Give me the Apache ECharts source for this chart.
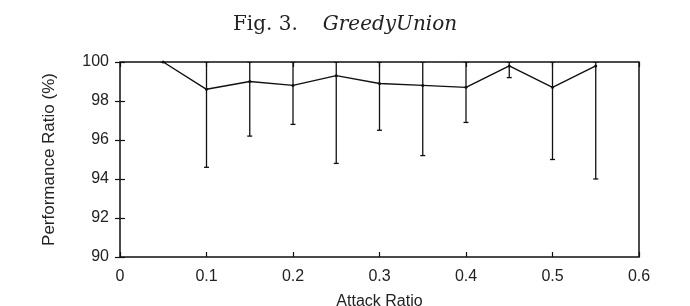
<!DOCTYPE html>
<html>
<head>
<meta charset="utf-8">
<script src="https://cdn.jsdelivr.net/npm/echarts@6/dist/echarts.min.js"></script>
<style>
  html, body { margin: 0; padding: 0; background: #fff; }
  #chart { width: 690px; height: 306px; }
</style>
</head>
<body>
<div id="chart"></div>
<script>
// attack ratio on x, performance ratio (%) on y
var attackRatio = [0.05, 0.1, 0.15, 0.2, 0.25, 0.3, 0.35, 0.4, 0.45, 0.5, 0.55];
var meanRatio   = [100, 98.6, 99.0, 98.8, 99.3, 98.9, 98.8, 98.7, 99.8, 98.7, 99.8];
var lowRatio    = [100, 94.6, 96.2, 96.8, 94.8, 96.5, 95.2, 96.9, 99.2, 95.0, 94.0];
var highRatio   = [100, 100, 100, 100, 100, 100, 100, 100, 100, 100, 100];
var yTicks = [90, 92, 94, 96, 98, 100];
var xTicks = [0, 0.1, 0.2, 0.3, 0.4, 0.5, 0.6];

var lineData = attackRatio.map(function (x, i) { return [x, meanRatio[i]]; });
var errData = attackRatio.map(function (x, i) { return [x, lowRatio[i], highRatio[i]]; });

var myChart = echarts.init(document.getElementById('chart'));

var axisFont = { fontFamily: 'Liberation Sans', fontSize: 16, color: '#222' };

var option = {
    animation: false,
    title: {
        text: '{a|Fig. 3.}     {b|GreedyUnion}',
        left: 'center',
        top: 10,
        textStyle: {
            fontWeight: 'normal',
            rich: {
                a: { fontFamily: 'DejaVu Serif', fontSize: 20, fontWeight: 'normal', color: '#222' },
                b: { fontFamily: 'DejaVu Serif', fontSize: 20, fontStyle: 'italic', fontWeight: 'normal', color: '#222' }
            }
        }
    },
    grid: {
        left: 120,
        right: 51,
        top: 62,
        bottom: 49,
        outerBoundsMode: 'none',
        show: true,
        borderColor: '#111',
        borderWidth: 1.5
    },
    xAxis: [{
        type: 'value',
        min: 0,
        max: 0.6,
        interval: 0.1,
        name: 'Attack Ratio',
        nameLocation: 'middle',
        nameGap: 37,
        nameTextStyle: axisFont,
        axisLine: { show: false },
        axisTick: { inside: true, length: 5, lineStyle: { color: '#111', width: 1.2 } },
        splitLine: { show: false },
        axisLabel: Object.assign({ margin: 12, formatter: function (v) {
            return xTicks.indexOf(+v.toFixed(1)) >= 0 ? String(+v.toFixed(1)) : '';
        } }, axisFont)
    }, {
        type: 'value',
        position: 'top',
        min: 0,
        max: 0.6,
        interval: 0.1,
        axisLine: { show: false },
        axisTick: { inside: true, length: 5, lineStyle: { color: '#111', width: 1.2 } },
        axisLabel: { show: false },
        splitLine: { show: false }
    }],
    yAxis: [{
        type: 'value',
        min: 90,
        max: 100,
        interval: 2,
        name: 'Performance Ratio (%)',
        nameLocation: 'middle',
        nameGap: 62,
        nameTextStyle: { fontFamily: 'Liberation Sans', fontSize: 17, color: '#222' },
        axisLine: { show: false },
        axisTick: { inside: true, length: 5, lineStyle: { color: '#111', width: 1.2 } },
        splitLine: { show: false },
        axisLabel: Object.assign({ margin: 11, formatter: function (v) {
            return yTicks.indexOf(v) >= 0 ? String(v) : '';
        } }, axisFont)
    }, {
        type: 'value',
        position: 'right',
        min: 90,
        max: 100,
        interval: 2,
        axisLine: { show: false },
        axisTick: { inside: true, length: 5, lineStyle: { color: '#111', width: 1.2 } },
        axisLabel: { show: false },
        splitLine: { show: false }
    }],
    series: [{
        type: 'custom',
        name: 'error',
        data: errData,
        clip: true,
        renderItem: function (params, api) {
            var lo = api.coord([api.value(0), api.value(1)]);
            var hi = api.coord([api.value(0), api.value(2)]);
            var cap = 2.5;
            var st = { stroke: '#111', lineWidth: 1.3 };
            return {
                type: 'group',
                children: [
                    { type: 'line', shape: { x1: lo[0], y1: lo[1], x2: hi[0], y2: hi[1] }, style: st },
                    { type: 'line', shape: { x1: lo[0] - cap, y1: lo[1], x2: lo[0] + cap, y2: lo[1] }, style: st },
                    { type: 'line', shape: { x1: hi[0] - cap, y1: hi[1], x2: hi[0] + cap, y2: hi[1] }, style: st }
                ]
            };
        }
    }, {
        type: 'line',
        name: 'mean',
        data: lineData,
        symbol: 'circle',
        symbolSize: 3,
        itemStyle: { color: '#111' },
        lineStyle: { color: '#111', width: 1.4 }
    }]
};

myChart.setOption(option);
</script>
</body>
</html>
